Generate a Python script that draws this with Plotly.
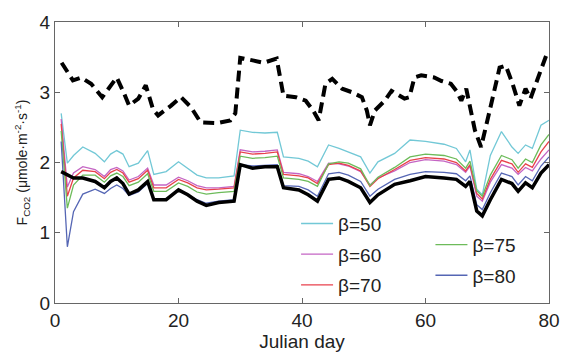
import plotly.graph_objects as go

# ---- data ----
dash_days = [1.07, 2.9, 4.25, 5.85, 7.65, 8.8, 10.0, 11.2, 12.0, 13.5, 14.7, 15.9, 16.7, 18.8, 20.4, 22.0,
             23.6, 26.3, 28.4, 29.2, 30.0, 32.2, 33.8, 35.9, 37.0, 39.0, 40.6, 41.8, 42.7, 43.8, 44.9,
             46.5, 48.1, 49.7, 50.5, 51.0, 51.8, 53.4, 54.5, 56.6, 57.4, 58.2, 59.3, 61.4, 62.6, 64.1,
             65.0, 65.8, 66.6, 68.0, 69.0, 70.4, 72.0, 73.0, 74.1, 75.2, 76.2, 77.0, 78.1, 79.7]
dash_vals = [3.42, 3.17, 3.21, 3.12, 2.93, 3.07, 3.21, 2.98, 2.81, 2.91, 3.10, 2.75, 2.67, 2.81, 2.93, 2.79,
             2.57, 2.56, 2.60, 2.70, 3.49, 3.45, 3.42, 3.48, 2.95, 2.93, 2.88, 2.74, 2.60, 3.12, 3.19,
             3.05, 3.00, 2.93, 2.74, 2.53, 2.74, 2.88, 3.02, 2.91, 2.93, 3.21, 3.24, 3.21, 3.16, 3.12,
             3.02, 2.88, 3.05, 2.46, 2.22, 2.74, 3.35, 3.38, 3.12, 2.81, 3.05, 2.91, 3.16, 3.56]

days = [1, 2, 3, 4.5, 6.5, 8, 9, 10, 11, 12, 13.5, 15, 16, 18, 20, 21.5, 23, 24.5, 26.5, 29,
        30, 32, 34, 36, 37, 39.5, 41, 42.5, 44.3, 46, 47.5, 49.5, 51, 52.3, 55, 57.5, 60, 63, 65, 66.5,
        67.2, 68.3, 69.2, 70.5, 72.3, 74, 75, 76.2, 77.3, 78.7, 80]

black_vals = [1.87, 1.82, 1.78, 1.78, 1.73, 1.64, 1.73, 1.78, 1.70, 1.55, 1.61, 1.73, 1.47, 1.47, 1.61, 1.54,
              1.45, 1.39, 1.43, 1.45, 1.97, 1.92, 1.94, 1.94, 1.64, 1.61, 1.54, 1.45, 1.76, 1.78, 1.73,
              1.64, 1.43, 1.54, 1.69, 1.74, 1.80, 1.78, 1.76, 1.66, 1.73, 1.31, 1.24, 1.47, 1.76, 1.70,
              1.59, 1.71, 1.64, 1.85, 1.97]
b50 = [2.70, 1.99, 2.10, 2.22, 2.13, 2.01, 2.12, 2.17, 2.12, 1.94, 1.99, 2.17, 1.83, 1.87, 2.01, 1.92,
       1.82, 1.78, 1.78, 1.81, 2.46, 2.43, 2.42, 2.43, 2.08, 2.06, 2.02, 1.94, 2.25, 2.20, 2.15,
       2.08, 1.85, 2.01, 2.13, 2.32, 2.30, 2.26, 2.20, 2.01, 2.18, 1.62, 1.54, 2.10, 2.44, 2.22,
       2.13, 2.25, 2.20, 2.53, 2.60]
b60 = [2.62, 1.65, 1.85, 1.94, 1.90, 1.80, 1.90, 1.93, 1.88, 1.75, 1.80, 1.92, 1.68, 1.68, 1.79, 1.74,
       1.67, 1.64, 1.64, 1.66, 2.18, 2.15, 2.16, 2.18, 1.86, 1.84, 1.80, 1.73, 1.99, 1.98, 1.95,
       1.87, 1.68, 1.78, 1.88, 2.00, 2.04, 2.02, 1.97, 1.86, 1.95, 1.52, 1.45, 1.72, 1.97, 1.92,
       1.83, 1.93, 1.88, 2.05, 2.18]
b70 = [2.55, 1.52, 1.78, 1.89, 1.87, 1.77, 1.86, 1.90, 1.85, 1.72, 1.77, 1.89, 1.64, 1.64, 1.76, 1.71,
       1.64, 1.61, 1.62, 1.64, 2.15, 2.12, 2.13, 2.15, 1.83, 1.81, 1.78, 1.70, 1.97, 1.99, 1.96,
       1.88, 1.66, 1.77, 1.90, 2.03, 2.07, 2.05, 2.00, 1.88, 1.97, 1.56, 1.48, 1.76, 2.03, 1.98,
       1.86, 1.98, 1.93, 2.15, 2.30]
b75 = [2.45, 1.35, 1.68, 1.82, 1.82, 1.72, 1.81, 1.85, 1.80, 1.67, 1.72, 1.84, 1.59, 1.59, 1.71, 1.66,
       1.58, 1.55, 1.57, 1.59, 2.09, 2.06, 2.07, 2.09, 1.78, 1.76, 1.73, 1.66, 1.98, 2.01, 1.99,
       1.91, 1.67, 1.79, 1.93, 2.08, 2.12, 2.10, 2.05, 1.92, 2.02, 1.60, 1.52, 1.82, 2.10, 2.04,
       1.92, 2.05, 2.00, 2.25, 2.40]
b80 = [2.30, 0.80, 1.30, 1.55, 1.62, 1.56, 1.63, 1.68, 1.63, 1.53, 1.58, 1.70, 1.47, 1.48, 1.62, 1.55,
       1.47, 1.42, 1.45, 1.47, 1.97, 1.95, 1.96, 1.97, 1.67, 1.66, 1.61, 1.52, 1.84, 1.86, 1.82,
       1.73, 1.52, 1.62, 1.76, 1.83, 1.87, 1.86, 1.84, 1.74, 1.81, 1.40, 1.33, 1.57, 1.85, 1.80,
       1.68, 1.80, 1.74, 1.95, 2.08]

x_ticks = [0, 20, 40, 60, 80]
y_ticks = [0, 1, 2, 3, 4]

fig = go.Figure()

series = [
    ("β=50", b50, "#72C8D6", "legend"),
    ("β=60", b60, "#C465C4", "legend"),
    ("β=70", b70, "#E8414C", "legend"),
    ("β=75", b75, "#6DBB5A", "legend2"),
    ("β=80", b80, "#5566B4", "legend2"),
]
for name, vals, col, lg in series:
    fig.add_trace(go.Scatter(x=days, y=vals, mode="lines", name=name, legendgroup=name,
                             line=dict(color=col, width=1.3), legend=lg))

fig.add_trace(go.Scatter(x=days, y=black_vals, mode="lines", showlegend=False,
                         line=dict(color="black", width=3.5)))
fig.add_trace(go.Scatter(x=dash_days, y=dash_vals, mode="lines", showlegend=False,
                         line=dict(color="black", width=4, dash="11px,6px")))

font_family = "Liberation Sans, Arial"
axis_common = dict(showline=True, linecolor="#666", linewidth=1.2, mirror="ticks",
                   ticks="inside", ticklen=5, tickcolor="#666", showgrid=False, zeroline=False,
                   tickfont=dict(family=font_family, size=19, color="#222"))

fig.update_xaxes(range=[0, 80], tickvals=x_ticks, ticktext=[str(v) for v in x_ticks],
                 title=dict(text="Julian day", font=dict(family=font_family, size=19, color="#222"),
                            standoff=1), **axis_common)
fig.update_yaxes(range=[0, 4], tickvals=y_ticks, ticktext=[str(v) for v in y_ticks],
                 title=dict(text="F<sub>CO2</sub> (μmole·m<sup>-2</sup>·s<sup>-1</sup>)",
                            font=dict(family=font_family, size=14, color="#222"), standoff=8),
                 **axis_common)

legend_font = dict(family=font_family, size=19, color="#222")
fig.update_layout(
    width=572, height=357,
    margin=dict(l=55, r=15, t=21, b=53),
    paper_bgcolor="white", plot_bgcolor="white",
    legend=dict(x=0.488, y=0.35, xanchor="left", yanchor="top", bgcolor="rgba(0,0,0,0)",
                font=legend_font, itemwidth=32, tracegroupgap=3),
    legend2=dict(x=0.76, y=0.275, xanchor="left", yanchor="top", bgcolor="rgba(0,0,0,0)",
                 font=legend_font, itemwidth=32, tracegroupgap=3),
)

# remove the browser's default 8px body margin so the figure fills the window exactly
fig.write_html("out.html", config={"displayModeBar": False},
               post_script="document.body.style.margin='0';document.body.style.overflow='hidden';")
